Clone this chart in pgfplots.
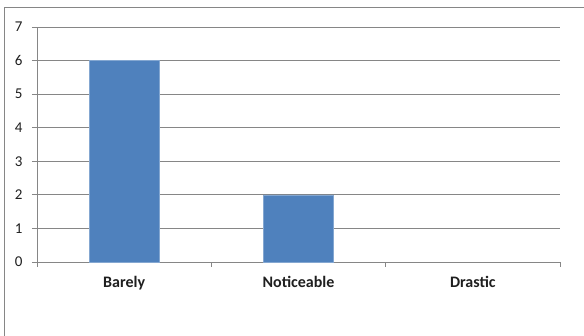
\documentclass[border=0pt]{standalone}
\usepackage{pgfplots}
\pgfplotsset{compat=1.18}
\usepackage{fontspec}
\setmainfont{Carlito}
\definecolor{barblue}{HTML}{4F81BD}
\definecolor{axgray}{HTML}{868686}
\begin{document}
\begin{tikzpicture}
\useasboundingbox (0,0) rectangle (584bp,336bp);
\fill[white] (0,0) rectangle (584bp,336bp);
\draw[axgray, line width=0.8bp] (4.5bp,-5bp) -- (4.5bp,328.5bp) -- (590bp,328.5bp);
\begin{axis}[
  at={(37bp,74bp)}, anchor=south west,
  scale only axis, width=523bp, height=235bp,
  xmin=-0.5, xmax=2.5, ymin=0, ymax=7,
  axis lines*=left,
  axis line style={axgray, line width=0.8bp},
  xtick={0,1,2},
  xticklabels={Barely,Noticeable,Drastic},
  x tick label style={font=\fontsize{16bp}{18bp}\selectfont\bfseries, text=black!88, yshift=-6bp},
  x tick style={draw=none},
  extra x ticks={-0.5,0.5,1.5,2.5},
  extra x tick labels={},
  extra x tick style={x tick style={draw=axgray, line width=0.8bp}, grid=none},
  ytick={0,...,7},
  y tick label style={font=\fontsize{15bp}{17bp}\selectfont, text=black!88, xshift=-6bp},
  tick align=outside,
  major tick length=5bp,
  tick style={draw=axgray, line width=0.8bp},
  ymajorgrids,
  grid style={axgray, line width=0.8bp},
  /pgf/number format/assume math mode=true,
  clip=false,
]
\addplot[ybar, bar width=70bp, fill=barblue, draw=barblue!70!white, line width=0.5bp] coordinates {(0,6) (1,2)};
\end{axis}
\end{tikzpicture}
\end{document}
